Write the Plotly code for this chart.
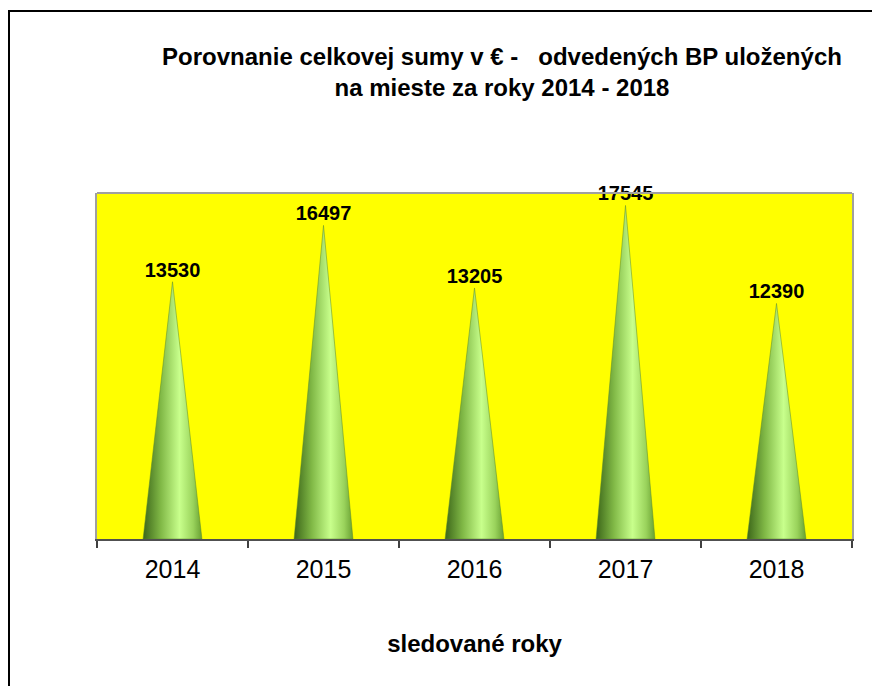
import plotly.graph_objects as go

years = ["2014", "2015", "2016", "2017", "2018"]
values = [13530, 16497, 13205, 17545, 12390]

W, H = 880, 686
ML, MR, MT, MB = 89, 36, 185, 155
PW, PH = W - ML - MR, H - MT - MB

def px_x(p):
    return (p - ML) / PW

def px_y(p):
    return (H - MB - p) / PH

half = 0.195
fig = go.Figure()
for i, v in enumerate(values):
    fig.add_trace(go.Scatter(
        x=[i - half, i, i + half, i - half],
        y=[0, v, 0, 0],
        mode="lines",
        fill="toself",
        line=dict(width=0.5, color="#5a8a2a"),
        fillgradient=dict(
            type="horizontal",
            colorscale=[[0, "#3c6619"], [0.3, "#80b846"], [0.62, "#c8ff8c"],
                        [0.85, "#9ad35c"], [1, "#68a032"]],
        ),
        hoverinfo="skip",
        showlegend=False,
    ))

fig.add_trace(go.Scatter(
    x=list(range(len(years))),
    y=values,
    mode="text",
    text=[str(v) for v in values],
    textposition="top center",
    textfont=dict(family="Liberation Sans", size=20, color="black", weight="bold"),
    showlegend=False,
    hoverinfo="skip",
    cliponaxis=False,
    xaxis="x2",
))

fig.update_layout(
    width=W, height=H,
    margin=dict(l=ML, r=MR, t=MT, b=MB),
    paper_bgcolor="white",
    plot_bgcolor="#FFFF00",
    font=dict(family="Liberation Sans", color="black"),
    title=dict(
        text="<b>Porovnanie celkovej sumy v € -   odvedených BP uložených<br>na mieste za roky 2014 - 2018</b>",
        x=494 / W, xanchor="center",
        y=1 - 57 / H, yanchor="middle",
        font=dict(size=24, color="black"),
    ),
    xaxis=dict(
        range=[-0.5, 4.5],
        tickvals=[-0.5, 0.5, 1.5, 2.5, 3.5, 4.5],
        ticks="outside", ticklen=7, tickwidth=1.5, tickcolor="#404040",
        showticklabels=False,
        showline=True, linecolor="#505050", linewidth=2,
        showgrid=False, zeroline=False,
    ),
    xaxis2=dict(
        overlaying="x", matches="x", side="bottom",
        range=[-0.5, 4.5],
        tickvals=list(range(len(years))), ticktext=years,
        ticks="outside", ticklen=8, tickcolor="rgba(0,0,0,0)",
        tickfont=dict(size=25, color="black"),
        showline=False, showgrid=False, zeroline=False,
        title=dict(text="<b>sledované roky</b>", font=dict(size=24, color="black"), standoff=53),
    ),
    yaxis=dict(
        range=[0, 18200],
        showticklabels=False, ticks="",
        showgrid=False, zeroline=False,
        showline=True, linecolor="#a0a0a0", linewidth=2, mirror=True,
    ),
    shapes=[
        dict(type="line", xref="paper", yref="paper", x0=0, x1=1, y0=1, y1=1,
             line=dict(color="#a0a0a0", width=2)),
        dict(type="path", xref="paper", yref="paper",
             path=f"M {px_x(1)} {px_y(700)} L {px_x(1)} {px_y(3)} L {px_x(900)} {px_y(3)}",
             line=dict(color="black", width=2)),
    ],
)

fig.write_html("out.html")
